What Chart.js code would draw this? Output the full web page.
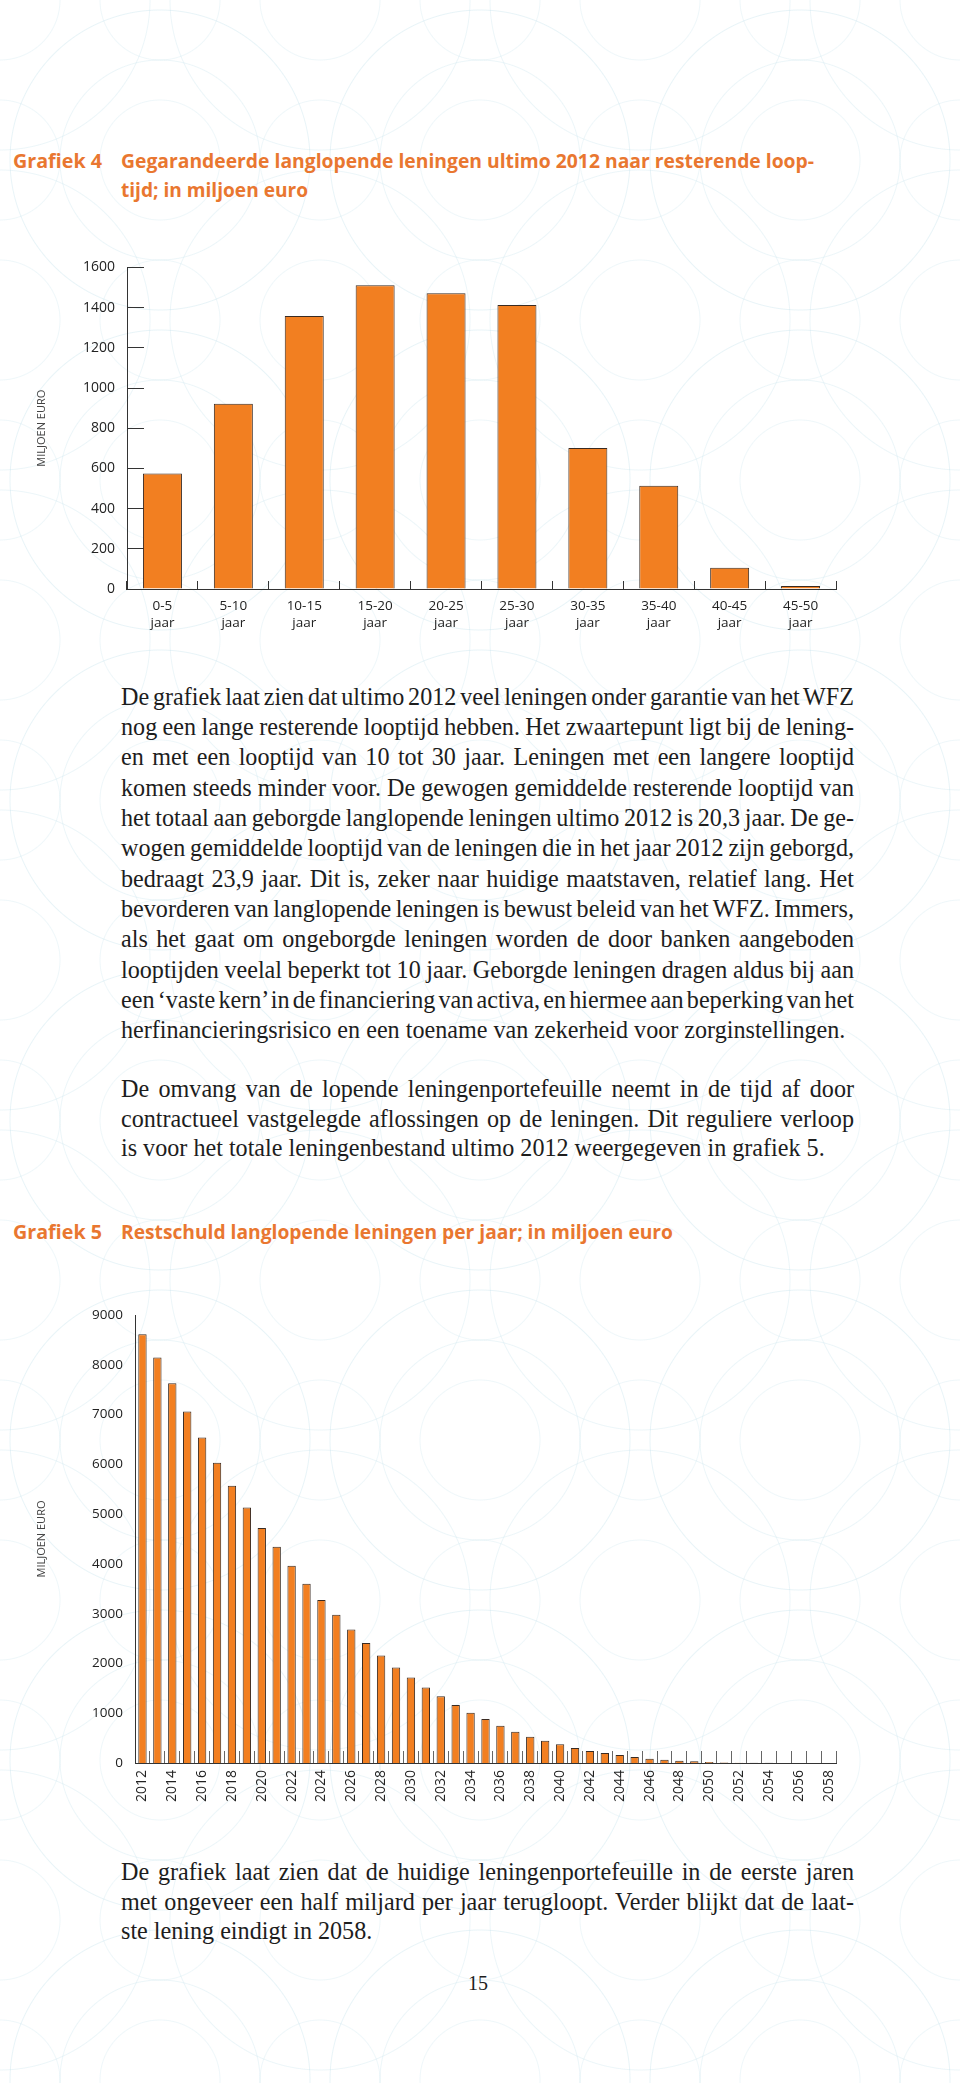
<!DOCTYPE html>
<html><head><meta charset="utf-8">
<script src="https://cdn.jsdelivr.net/npm/chart.js@4.4.1/dist/chart.umd.min.js"></script>
<style>
html,body{margin:0;padding:0;}
body{width:960px;height:2083px;position:relative;background-color:#fff;overflow:hidden;
  background-image:
    radial-gradient(circle at 50% 50%, transparent 0, transparent 149px, rgba(180,218,230,0.3) 150px, transparent 151px),
    radial-gradient(circle at 50% 50%, transparent 0, transparent 99px, rgba(180,218,230,0.25) 100px, transparent 101px),
    radial-gradient(circle at 50% 50%, transparent 0, transparent 149px, rgba(180,218,230,0.25) 150px, transparent 151px),
    radial-gradient(circle at 50% 50%, transparent 0, transparent 59px, rgba(180,218,230,0.22) 60px, transparent 61px);
  background-size:320px 320px, 320px 320px, 320px 320px, 160px 160px;
  background-position:0 0, 0 0, 160px 160px, 80px 80px;}
.ttl{position:absolute;font-family:"Open Sans",sans-serif;font-weight:700;color:#E97730;font-size:20px;line-height:29px;white-space:pre;transform-origin:0 50%;display:inline-block;}
.line{position:absolute;left:121px;white-space:pre;font-family:"Liberation Serif",serif;color:#1d1d1d;display:inline-block;}
.cw{position:absolute;left:0;width:960px;}
.pn{position:absolute;left:0;width:956px;text-align:center;font-family:"Liberation Serif",serif;font-size:20px;color:#1d1d1d;}
</style></head>
<body>
<div class="ttl" data-w="89" style="left:13px;top:146px">Grafiek 4</div>
<div class="ttl" data-w="693" style="left:121px;top:146px">Gegarandeerde langlopende leningen ultimo 2012 naar resterende loop-</div>
<div class="ttl" data-w="187" style="left:121px;top:175px">tijd; in miljoen euro</div>
<div class="cw" style="top:230px;height:420px"><canvas id="c4" width="960" height="420"></canvas></div>
<div id="p1"></div>
<div id="p2"></div>
<div class="ttl" data-w="89" style="left:13px;top:1217px">Grafiek 5</div>
<div class="ttl" data-w="552" style="left:121px;top:1217px">Restschuld langlopende leningen per jaar; in miljoen euro</div>
<div class="cw" style="top:1270px;height:560px"><canvas id="c5" width="960" height="560"></canvas></div>
<div id="p3"></div>
<div class="pn" style="top:1972px">15</div>
<script>
// ---------- data ----------
const cat4 = [["0-5","jaar"],["5-10","jaar"],["10-15","jaar"],["15-20","jaar"],["20-25","jaar"],["25-30","jaar"],["30-35","jaar"],["35-40","jaar"],["40-45","jaar"],["45-50","jaar"]];
const val4 = [575, 922, 1358, 1511, 1472, 1413, 702, 514, 106, 15];
const yTicks4 = [0, 200, 400, 600, 800, 1000, 1200, 1400, 1600];

const years5 = ["2012","2013","2014","2015","2016","2017","2018","2019","2020","2021","2022","2023","2024","2025","2026","2027","2028","2029","2030","2031","2032","2033","2034","2035","2036","2037","2038","2039","2040","2041","2042","2043","2044","2045","2046","2047","2048","2049","2050","2051","2052","2053","2054","2055","2056","2057","2058"];
const val5 = [8614, 8146, 7631, 7062, 6540, 6031, 5569, 5134, 4719, 4344, 3963, 3601, 3273, 2979, 2684, 2410, 2162, 1921, 1720, 1519, 1339, 1165, 1011, 884, 750, 629, 529, 448, 375, 301, 241, 201, 161, 120, 87, 67, 47, 33, 18, 10, 6, 4, 3, 2, 2, 1, 1];
const yTicks5 = [0, 1000, 2000, 3000, 4000, 5000, 6000, 7000, 8000, 9000];

const para1 = [
"De grafiek laat zien dat ultimo 2012 veel leningen onder garantie van het WFZ",
"nog een lange resterende looptijd hebben. Het zwaartepunt ligt bij de lening-",
"en met een looptijd van 10 tot 30 jaar. Leningen met een langere looptijd",
"komen steeds minder voor. De gewogen gemiddelde resterende looptijd van",
"het totaal aan geborgde langlopende leningen ultimo 2012 is 20,3 jaar. De ge-",
"wogen gemiddelde looptijd van de leningen die in het jaar 2012 zijn geborgd,",
"bedraagt 23,9 jaar. Dit is, zeker naar huidige maatstaven, relatief lang. Het",
"bevorderen van langlopende leningen is bewust beleid van het WFZ. Immers,",
"als het gaat om ongeborgde leningen worden de door banken aangeboden",
"looptijden veelal beperkt tot 10 jaar. Geborgde leningen dragen aldus bij aan",
"een \u2018vaste kern\u2019 in de financiering van activa, en hiermee aan beperking van het",
"herfinancieringsrisico en een toename van zekerheid voor zorginstellingen."];
const para2 = [
"De omvang van de lopende leningenportefeuille neemt in de tijd af door",
"contractueel vastgelegde aflossingen op de leningen. Dit reguliere verloop",
"is voor het totale leningenbestand ultimo 2012 weergegeven in grafiek 5."];
const para3 = [
"De grafiek laat zien dat de huidige leningenportefeuille in de eerste jaren",
"met ongeveer een half miljard per jaar terugloopt. Verder blijkt dat de laat-",
"ste lening eindigt in 2058."];

// ---------- titles ----------
document.querySelectorAll('.ttl').forEach(el => {
  const w = el.getBoundingClientRect().width;
  const t = +el.dataset.w;
  el.style.transform = 'scaleX(' + (t / w) + ')';
});

// ---------- body text ----------
const probe = document.createElement('span');
probe.className = 'line'; probe.style.fontSize = '20px'; probe.style.visibility = 'hidden';
probe.textContent = para1[11];
document.body.appendChild(probe);
const fs = 20 * 725 / probe.getBoundingClientRect().width;
probe.remove();
const WIDTH = 733;
function layoutPara(id, lines, firstCenter, lh) {
  const host = document.getElementById(id);
  lines.forEach((t, i) => {
    const d = document.createElement('span');
    d.className = 'line';
    d.style.fontSize = fs + 'px';
    d.style.lineHeight = lh + 'px';
    d.style.top = (firstCenter - lh / 2 + i * lh) + 'px';
    d.textContent = t;
    host.appendChild(d);
    if (i < lines.length - 1) {
      const w = d.getBoundingClientRect().width;
      const n = (t.match(/ /g) || []).length;
      if (n) d.style.wordSpacing = ((WIDTH - w) / n) + 'px';
    }
  });
}
layoutPara('p1', para1, 697, 30.3);
layoutPara('p2', para2, 1089, 29.5);
layoutPara('p3', para3, 1872, 29.5);

// ---------- charts ----------
const ORANGE = '#F27F21', EDGE = '#3a2b22', AX = '#333';
Chart.defaults.font.family = '"Open Sans", sans-serif';
const plain = v => String(v);

new Chart(document.getElementById('c4'), {
  type: 'bar',
  data: { labels: cat4, datasets: [{ data: val4, backgroundColor: ORANGE, borderColor: EDGE, borderWidth: 1,
    barPercentage: 0.55, categoryPercentage: 1 }] },
  options: {
    responsive: false, animation: false, devicePixelRatio: 1,
    layout: { padding: { top: 33, right: 124, left: 0, bottom: 0 } },
    plugins: { legend: { display: false }, tooltip: { enabled: false } },
    scales: {
      x: {
        offset: true,
        grid: { offset: true, drawOnChartArea: false, drawTicks: true, tickLength: -8, color: AX },
        border: { color: AX, width: 1 },
        ticks: { color: '#222', font: { size: 13.5, lineHeight: 1.3 }, padding: 16, autoSkip: false, maxRotation: 0 },
        afterFit(s) { s.height = 61; }
      },
      y: {
        min: 0, max: 1600,
        afterBuildTicks(s) { s.ticks = yTicks4.map(v => ({ value: v })); },
        ticks: { color: '#222', font: { size: 14 }, padding: 29, callback: plain },
        grid: { drawOnChartArea: false, drawTicks: true, tickLength: -17, color: AX },
        border: { color: AX, width: 1 },
        title: { display: true, text: 'MILJOEN EURO', color: '#444', font: { size: 11 }, padding: { top: 35 } },
        afterFit(s) { s.width = 127; }
      }
    }
  }
});

new Chart(document.getElementById('c5'), {
  type: 'bar',
  data: { labels: years5, datasets: [{ data: val5, backgroundColor: ORANGE, borderColor: EDGE, borderWidth: 1,
    barPercentage: 0.56, categoryPercentage: 1 }] },
  options: {
    responsive: false, animation: false, devicePixelRatio: 1,
    layout: { padding: { top: 45, right: 124, left: 0, bottom: 0 } },
    plugins: { legend: { display: false }, tooltip: { enabled: false } },
    scales: {
      x: {
        offset: true,
        grid: { offset: true, drawOnChartArea: false, drawTicks: true, tickLength: -12, color: '#666' },
        border: { color: AX, width: 1 },
        ticks: { color: '#222', font: { size: 14 }, padding: 19, autoSkip: false, minRotation: 90, maxRotation: 90,
          callback: (v, i) => (i % 2 === 0 ? years5[i] : '') },
        afterFit(s) { s.height = 67; }
      },
      y: {
        min: 0, max: 9000,
        afterBuildTicks(s) { s.ticks = yTicks5.map(v => ({ value: v })); },
        ticks: { color: '#222', font: { size: 13.5 }, padding: 12, callback: plain },
        grid: { display: false, drawTicks: false },
        border: { color: AX, width: 1 },
        title: { display: true, text: 'MILJOEN EURO', color: '#444', font: { size: 11 }, padding: { top: 35 } },
        afterFit(s) { s.width = 135; }
      }
    }
  }
});
</script>
</body></html>
